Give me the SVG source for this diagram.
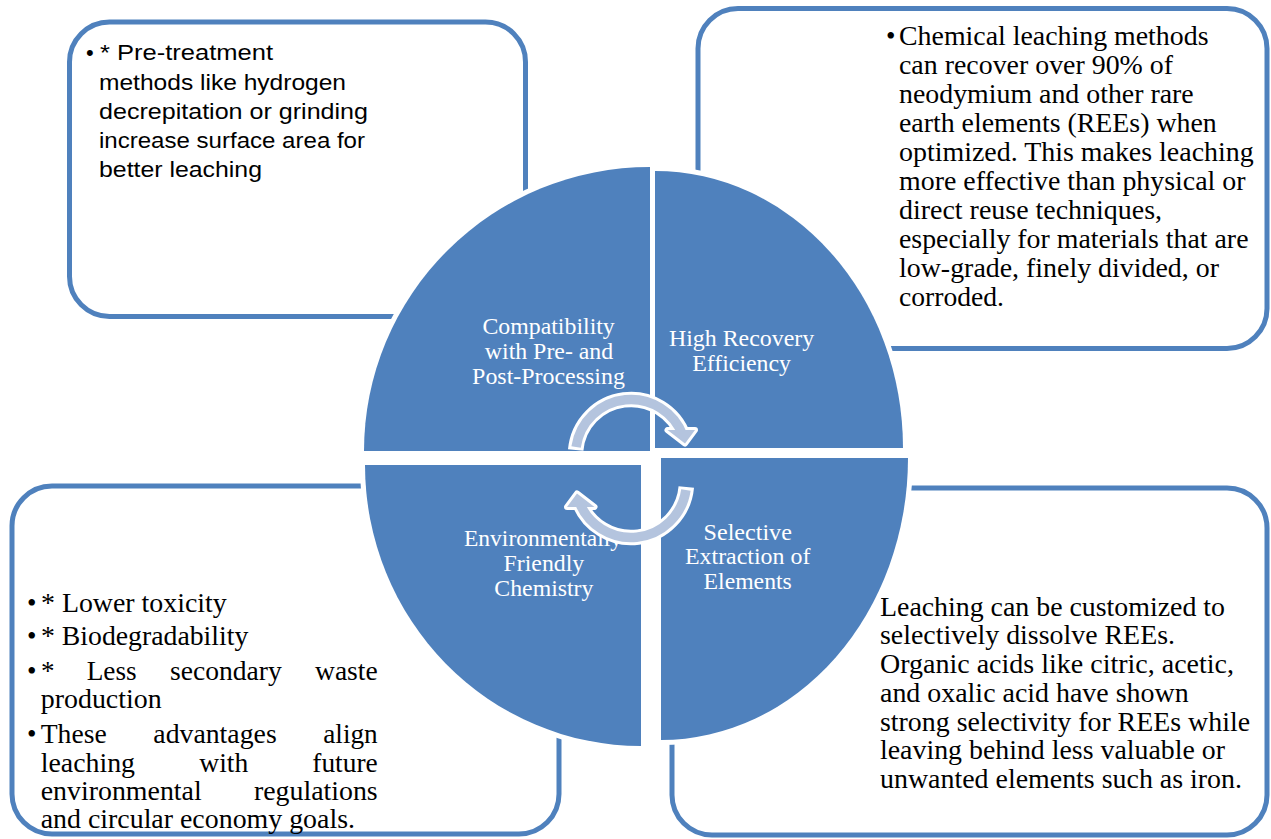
<svg xmlns="http://www.w3.org/2000/svg" xmlns:xlink="http://www.w3.org/1999/xlink" width="1271" height="839" viewBox="0 0 1271 839">
  <defs>
    <style>
      .box { fill: #ffffff; stroke: #4F81BD; stroke-width: 5; }
      .quad { fill: #4F81BD; stroke: #ffffff; stroke-width: 10; paint-order: stroke; stroke-linejoin: round; }
      .sans { font-family: "Liberation Sans", Arial, sans-serif; font-size: 22px; fill: #000000; }
      .serif { font-family: "Liberation Serif", "Times New Roman", serif; font-size: 27px; fill: #000000; }
      .label { font-family: "Liberation Serif", "Times New Roman", serif; font-size: 23px; fill: #ffffff; text-anchor: middle; }
      .arrow-halo { fill: none; stroke: #ffffff; stroke-width: 15.5; }
      .arrow-body { fill: none; stroke: #B4C4DE; stroke-width: 9.5; }
      .head-halo { fill: #ffffff; stroke: #ffffff; stroke-width: 6; stroke-linejoin: round; }
      .head { fill: #B4C4DE; }
    </style>
    <!-- curved cycle arrow: arc centred on (631,455), head pointing down at the right end -->
    <g id="cycle-arrow">
      <path class="arrow-halo" d="M575.7,450 A55.5,55.5 0 0 1 683.15,436.02"/>
      <polygon class="head-halo" points="667.5,430 695,430 685,443.5"/>
      <path class="arrow-body" d="M576.08,447 A55.5,55.5 0 0 1 683.15,436.02"/>
      <polygon class="head" points="667.5,430 695,430 685,443.5"/>
    </g>
  </defs>

  <rect width="1271" height="839" fill="#ffffff"/>

  <!-- corner text boxes -->
  <g id="box-pretreatment">
    <rect class="box" x="69.5" y="22" width="456" height="294.5" rx="40" ry="40"/>
    <text class="sans" x="86" y="60">•</text>
    <text class="sans" x="100" y="60" textLength="173" lengthAdjust="spacingAndGlyphs">* Pre-treatment</text>
    <text class="sans" x="99" y="90" textLength="247" lengthAdjust="spacingAndGlyphs">methods like hydrogen</text>
    <text class="sans" x="99" y="119" textLength="269" lengthAdjust="spacingAndGlyphs">decrepitation or grinding</text>
    <text class="sans" x="99" y="148" textLength="266" lengthAdjust="spacingAndGlyphs">increase surface area for</text>
    <text class="sans" x="99" y="177" textLength="163" lengthAdjust="spacingAndGlyphs">better leaching</text>
  </g>

  <g id="box-recovery">
    <rect class="box" x="698" y="8.5" width="569" height="340" rx="40" ry="40"/>
    <text class="serif" x="886" y="45">•</text>
    <text class="serif" x="899" y="45" textLength="309.5" lengthAdjust="spacingAndGlyphs">Chemical leaching methods</text>
    <text class="serif" x="899" y="74" textLength="274" lengthAdjust="spacingAndGlyphs">can recover over 90% of</text>
    <text class="serif" x="899" y="103" textLength="294.7" lengthAdjust="spacingAndGlyphs">neodymium and other rare</text>
    <text class="serif" x="899" y="132" textLength="317.7" lengthAdjust="spacingAndGlyphs">earth elements (REEs) when</text>
    <text class="serif" x="899" y="161" textLength="354.7" lengthAdjust="spacingAndGlyphs">optimized. This makes leaching</text>
    <text class="serif" x="899" y="190" textLength="346.6" lengthAdjust="spacingAndGlyphs">more effective than physical or</text>
    <text class="serif" x="899" y="219" textLength="263" lengthAdjust="spacingAndGlyphs">direct reuse techniques,</text>
    <text class="serif" x="899" y="248" textLength="349.5" lengthAdjust="spacingAndGlyphs">especially for materials that are</text>
    <text class="serif" x="899" y="277" textLength="320" lengthAdjust="spacingAndGlyphs">low-grade, finely divided, or</text>
    <text class="serif" x="899" y="306" textLength="105" lengthAdjust="spacingAndGlyphs">corroded.</text>
  </g>

  <g id="box-environment">
    <rect class="box" x="12" y="486" width="547" height="348" rx="40" ry="40"/>
    <text class="serif" x="27" y="612">•</text>
    <text class="serif" x="41" y="612" textLength="185.7" lengthAdjust="spacingAndGlyphs">* Lower toxicity</text>
    <text class="serif" x="27" y="645">•</text>
    <text class="serif" x="41" y="645" textLength="207.3" lengthAdjust="spacingAndGlyphs">* Biodegradability</text>
    <text class="serif" x="27" y="680">•</text>
    <text class="serif" x="41" y="680">*</text>
    <text class="serif" x="86.7" y="680" textLength="50" lengthAdjust="spacingAndGlyphs">Less</text>
    <text class="serif" x="170" y="680" textLength="111.7" lengthAdjust="spacingAndGlyphs">secondary</text>
    <text class="serif" x="315" y="680" textLength="62.7" lengthAdjust="spacingAndGlyphs">waste</text>
    <text class="serif" x="40.7" y="708" textLength="121" lengthAdjust="spacingAndGlyphs">production</text>
    <text class="serif" x="27" y="743">•</text>
    <text class="serif" x="40.7" y="743" textLength="66" lengthAdjust="spacingAndGlyphs">These</text>
    <text class="serif" x="153.3" y="743" textLength="123.4" lengthAdjust="spacingAndGlyphs">advantages</text>
    <text class="serif" x="323.3" y="743" textLength="54.4" lengthAdjust="spacingAndGlyphs">align</text>
    <text class="serif" x="40.7" y="772" textLength="94.3" lengthAdjust="spacingAndGlyphs">leaching</text>
    <text class="serif" x="199.3" y="772" textLength="49" lengthAdjust="spacingAndGlyphs">with</text>
    <text class="serif" x="312.3" y="772" textLength="65.4" lengthAdjust="spacingAndGlyphs">future</text>
    <text class="serif" x="40.7" y="800" textLength="161" lengthAdjust="spacingAndGlyphs">environmental</text>
    <text class="serif" x="254" y="800" textLength="123.7" lengthAdjust="spacingAndGlyphs">regulations</text>
    <text class="serif" x="40.7" y="828" textLength="314.3" lengthAdjust="spacingAndGlyphs">and circular economy goals.</text>
  </g>

  <g id="box-selective">
    <rect class="box" x="672" y="488" width="595" height="347" rx="40" ry="40"/>
    <text class="serif" x="880" y="616" textLength="345" lengthAdjust="spacingAndGlyphs">Leaching can be customized to</text>
    <text class="serif" x="880" y="644" textLength="295" lengthAdjust="spacingAndGlyphs">selectively dissolve REEs.</text>
    <text class="serif" x="880" y="673" textLength="354" lengthAdjust="spacingAndGlyphs">Organic acids like citric, acetic,</text>
    <text class="serif" x="880" y="702" textLength="308.6" lengthAdjust="spacingAndGlyphs">and oxalic acid have shown</text>
    <text class="serif" x="880" y="731" textLength="370" lengthAdjust="spacingAndGlyphs">strong selectivity for REEs while</text>
    <text class="serif" x="880" y="759" textLength="345" lengthAdjust="spacingAndGlyphs">leaving behind less valuable or</text>
    <text class="serif" x="880" y="788" textLength="362" lengthAdjust="spacingAndGlyphs">unwanted elements such as iron.</text>
  </g>

  <!-- four quarter segments of the central disc -->
  <g id="quad-compatibility">
    <path class="quad" d="M650,451 L364,451 A286,284 0 0 1 650,167 Z"/>
    <text class="label" x="548.6" y="334" textLength="132.4" lengthAdjust="spacingAndGlyphs">Compatibility</text>
    <text class="label" x="549" y="359" textLength="128.4" lengthAdjust="spacingAndGlyphs">with Pre- and</text>
    <text class="label" x="548.5" y="384" textLength="152.8" lengthAdjust="spacingAndGlyphs">Post-Processing</text>
  </g>

  <g id="quad-recovery">
    <path class="quad" d="M655,448 L655,171 A248,277 0 0 1 903,448 Z"/>
    <text class="label" x="741.6" y="345.6" textLength="145.4" lengthAdjust="spacingAndGlyphs">High Recovery</text>
    <text class="label" x="741.6" y="370.5" textLength="98.8" lengthAdjust="spacingAndGlyphs">Efficiency</text>
  </g>

  <g id="quad-selective">
    <path class="quad" d="M661,458 L908,458 A247,282 0 0 1 661,740 Z"/>
    <text class="label" x="747.7" y="539.6" textLength="88.3" lengthAdjust="spacingAndGlyphs">Selective</text>
    <text class="label" x="747.7" y="563.7" textLength="125.5" lengthAdjust="spacingAndGlyphs">Extraction of</text>
    <text class="label" x="747.7" y="588.6" textLength="88.3" lengthAdjust="spacingAndGlyphs">Elements</text>
  </g>

  <g id="quad-environment">
    <path class="quad" d="M641,465 L641,746 A276,281 0 0 1 365,465 Z"/>
    <text class="label" x="543" y="545.8" textLength="158" lengthAdjust="spacingAndGlyphs">Environmentally</text>
    <text class="label" x="543.9" y="570.6" textLength="80.7" lengthAdjust="spacingAndGlyphs">Friendly</text>
    <text class="label" x="543.9" y="595.5" textLength="99.1" lengthAdjust="spacingAndGlyphs">Chemistry</text>
  </g>

  <!-- cycle connectors -->
  <g id="connectors">
    <use xlink:href="#cycle-arrow" href="#cycle-arrow"/>
    <use xlink:href="#cycle-arrow" href="#cycle-arrow" transform="rotate(180 631 468.5)"/>
  </g>
</svg>
